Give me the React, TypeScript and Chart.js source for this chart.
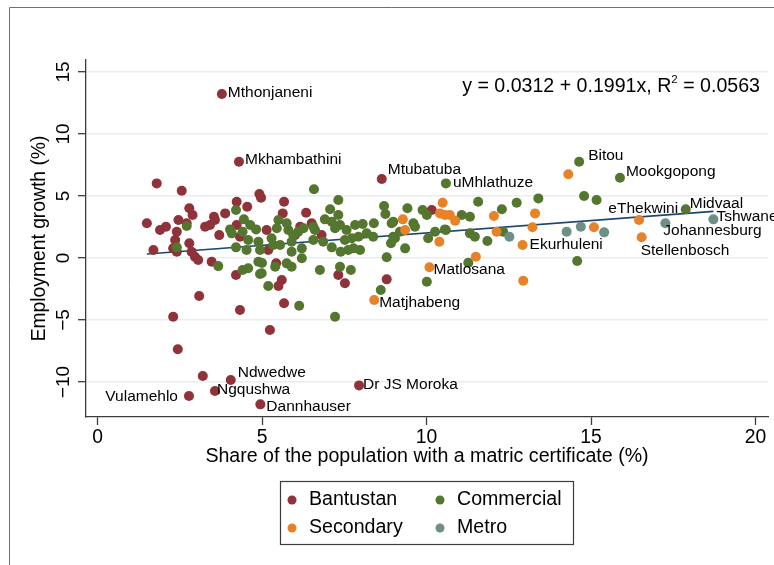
import React, { useEffect, useRef } from 'react';
import { Chart, registerables } from 'chart.js';

Chart.register(...registerables);

// ---------------- data ----------------
const groupNames = ['Bantustan', 'Commercial', 'Secondary', 'Metro'];

// [share with matric (%), employment growth (%)]
const bantustan: [number, number][] = [
  [3.78, 13.23], [4.30, 7.77], [8.64, 6.37], [4.05, -9.84], [3.57, -10.73], [2.78, -11.13], [4.95, -11.80], [7.95, -10.27],
  [1.80, 6.02], [2.56, 5.43], [1.50, 2.80], [1.90, 2.26], [2.08, 2.52], [1.70, 0.65], [2.79, 4.01], [2.89, 3.47],
  [2.46, 3.06], [2.71, 2.80], [2.41, 2.12], [2.36, 1.45], [2.30, 0.78], [2.41, 0.51], [2.79, 1.19], [2.86, 0.51],
  [2.96, 0.10], [3.06, -0.16], [3.47, -0.30], [3.27, 2.52], [3.42, 2.66], [3.54, 3.33], [3.57, 3.06], [3.70, 1.85],
  [3.88, 3.60], [4.23, 4.54], [4.55, 4.14], [4.92, 5.16], [4.97, 4.86], [5.14, 2.26], [4.21, -1.37], [3.09, -3.06],
  [2.30, -4.73], [4.33, -4.19], [4.23, 2.66], [4.33, 1.72], [5.67, 4.54], [6.34, 3.65], [5.63, 3.60], [6.16, 2.52],
  [6.51, 2.80], [6.81, 1.85], [6.00, 1.85], [5.19, 0.65], [5.43, -0.43], [5.60, -1.77], [5.50, -2.26], [5.67, -3.65],
  [7.32, -1.37], [7.52, -2.04], [8.79, -1.72], [10.16, 3.87], [5.24, -5.81], [2.44, -7.36], [3.20, -9.52],
];

const commercial: [number, number][] = [
  [10.59, 6.02], [14.64, 7.77], [15.88, 6.48], [17.88, 3.93],
  [2.71, 2.58], [2.41, 0.86], [3.67, -0.65], [4.21, 3.87], [4.45, 3.12], [4.03, 2.31], [4.08, 1.99], [4.41, 2.12],
  [4.64, 2.66], [4.82, 2.31], [4.58, 1.45], [4.53, 0.65], [4.21, 0.86], [4.89, 1.31], [4.94, 0.65], [4.89, -0.30],
  [4.41, -0.97], [4.58, -0.83], [4.94, -1.29], [5.19, -2.26], [6.58, 5.54], [7.32, 4.68], [7.07, 3.93], [7.32, 3.47],
  [6.91, 3.12], [7.12, 2.93], [7.37, 2.66], [7.22, 2.40], [7.57, 2.26], [7.83, 2.66], [8.06, 2.74], [8.40, 2.80],
  [8.18, 1.99], [7.93, 1.72], [7.73, 1.59], [7.52, 1.45], [7.78, 0.78], [7.98, 0.65], [7.62, 0.65], [7.39, 0.51],
  [7.12, 0.86], [6.86, 1.31], [6.56, 1.45], [6.61, 2.26], [6.56, 2.52], [6.26, 2.40], [6.10, 2.12], [5.95, 1.85],
  [5.90, 1.31], [5.90, 0.51], [6.21, 0.78], [6.21, -0.02], [5.80, 2.26], [5.75, 2.80], [5.50, 3.06], [5.45, 2.40],
  [5.29, 1.59], [5.34, 1.05], [5.55, 1.05], [5.40, -0.70], [5.75, -0.43], [5.90, -0.70], [4.99, -1.23], [5.00, -0.40],
  [6.13, -3.85], [6.76, -0.97], [7.37, -0.70], [7.70, -0.97], [7.22, -4.73], [8.61, -2.58], [8.79, 0.06], [8.71, 4.19],
  [8.75, 3.55], [8.94, 2.80], [8.99, 1.72], [8.92, 1.19], [8.38, 1.72], [9.42, 4.01], [9.88, 3.87], [10.01, 3.47],
  [8.99, 2.93], [9.60, 2.80], [9.65, 2.52], [9.19, 2.12], [9.04, 1.59], [9.35, 0.78], [10.05, 1.59], [10.26, 2.12],
  [10.59, 2.26], [11.07, 3.47], [11.32, 3.33], [11.57, 4.54], [11.32, 1.99], [11.47, 1.72], [11.85, 1.37], [12.29, 3.93],
  [12.74, 4.46], [13.40, 4.81], [11.27, -0.38], [10.01, -1.91], [14.79, 5.00], [15.17, 4.68], [14.58, -0.24], [12.33, 2.12],
  [10.56, 2.31],
];

const secondary: [number, number][] = [
  [12.92, 1.05], [10.09, -0.75], [8.41, -3.39], [16.54, 1.67],
  [10.49, 4.46], [10.41, 3.60], [10.56, 3.47], [10.71, 3.47], [10.87, 3.01], [9.28, 3.12], [9.35, 2.26], [10.39, 1.31],
  [12.05, 3.39], [12.13, 2.12], [11.50, 0.10], [12.94, -1.83], [13.30, 3.60], [13.22, 2.48], [14.31, 6.75], [15.09, 2.48],
  [16.46, 3.06],
];

const metro: [number, number][] = [
  [18.72, 3.12], [17.26, 2.80], [12.52, 1.72], [14.26, 2.12], [14.69, 2.52], [15.40, 2.07],
];

// fitted line end points
const fitLine: [number, number][] = [[1.5, 0.33], [18.72, 3.76]];

const xTickValues = [0, 5, 10, 15, 20];
const yTickValues = [-10, -5, 0, 5, 10, 15];
const xRange = [-0.35, 20.38];
const yRange = [-12.82, 15.97];

const xTitle = 'Share of the population with a matric certificate (%)';
const yTitle = 'Employment growth (%)';
const equationMain = 'y = 0.0312 + 0.1991x, R';
const equationSup = '2';
const equationTail = ' = 0.0563';

// labelled municipalities: group index, point index
const labelledNames = ['Mthonjaneni', 'Mkhambathini', 'Mtubatuba', 'Ndwedwe', 'Ngqushwa', 'Vulamehlo', 'Dannhauser', 'Dr JS Moroka',
  'uMhlathuze', 'Bitou', 'Mookgopong', 'Midvaal', 'Ekurhuleni', 'Matlosana', 'Matjhabeng', 'Stellenbosch',
  'Tshwane', 'Johannesburg', 'eThekwini'];
const labelledGroup = [0, 0, 0, 0, 0, 0, 0, 0, 1, 1, 1, 1, 2, 2, 2, 2, 3, 3, 3];
const labelledIndex = [0, 1, 2, 3, 4, 5, 6, 7, 0, 1, 2, 3, 0, 1, 2, 3, 0, 1, 1];

// ---------------- styles ----------------
const FONT = "'Liberation Sans', Arial, Helvetica, sans-serif";
const COLORS = ['rgb(144,50,57)', 'rgb(84,118,46)', 'rgb(232,130,38)', 'rgb(110,143,136)'];
const NAVY = 'rgb(26,71,111)';
const AXIS = '#3c3c3c';
const GRID = '#e5eef1';
const BIG = 19.6;

const labelStyle: Record<string, { dx: number; dy: number; align: CanvasTextAlign }> = {
  Mthonjaneni: { dx: 6, dy: -1, align: 'left' },
  Mkhambathini: { dx: 6, dy: -2, align: 'left' },
  Mtubatuba: { dx: 6, dy: -9, align: 'left' },
  uMhlathuze: { dx: 7, dy: -1, align: 'left' },
  Bitou: { dx: 9, dy: -6, align: 'left' },
  Mookgopong: { dx: 6, dy: -6, align: 'left' },
  Midvaal: { dx: 4, dy: -6, align: 'left' },
  Tshwane: { dx: 3, dy: -3, align: 'left' },
  Johannesburg: { dx: -2, dy: 7, align: 'left' },
  eThekwini: { dx: -57, dy: -15, align: 'left' },
  Stellenbosch: { dx: -1, dy: 13, align: 'left' },
  Ekurhuleni: { dx: 7, dy: 0, align: 'left' },
  Matlosana: { dx: 4, dy: 2, align: 'left' },
  Matjhabeng: { dx: 5, dy: 3, align: 'left' },
  'Dr JS Moroka': { dx: 4, dy: -1, align: 'left' },
  Ndwedwe: { dx: 7, dy: -7, align: 'left' },
  Ngqushwa: { dx: 2, dy: -1, align: 'left' },
  Vulamehlo: { dx: -11, dy: 1, align: 'right' },
  Dannhauser: { dx: 6, dy: 2, align: 'left' },
};

const decorPlugin = {
  id: 'decor',
  afterDraw(chart: any) {
    const { ctx } = chart;
    const ys = chart.scales.y;
    ctx.save();
    // outer frame
    ctx.strokeStyle = '#707070';
    ctx.lineWidth = 1;
    ctx.beginPath();
    ctx.moveTo(9.5, 565);
    ctx.lineTo(9.5, 7.5);
    ctx.lineTo(774, 7.5);
    ctx.stroke();

    // y tick labels (rotated)
    ctx.fillStyle = '#000';
    ctx.font = `19px ${FONT}`;
    ctx.textAlign = 'center';
    ctx.textBaseline = 'middle';
    yTickValues.forEach((v) => {
      const py = ys.getPixelForValue(v);
      ctx.save();
      ctx.translate(64, py);
      ctx.rotate(-Math.PI / 2);
      ctx.fillText(v < 0 ? '\u2212' + Math.abs(v) : String(v), 0, 0);
      ctx.restore();
    });

    // point labels
    ctx.font = `15.5px ${FONT}`;
    ctx.textBaseline = 'middle';
    labelledNames.forEach((name, i) => {
      const meta = chart.getDatasetMeta(labelledGroup[i]);
      const el = meta.data[labelledIndex[i]];
      if (!el) return;
      const st = labelStyle[name];
      ctx.textAlign = st.align;
      ctx.fillText(name, el.x + st.dx, el.y + st.dy);
    });

    // equation
    ctx.font = `${BIG}px ${FONT}`;
    ctx.textAlign = 'left';
    ctx.textBaseline = 'middle';
    const supFont = `11.5px ${FONT}`;
    const w1 = ctx.measureText(equationMain).width;
    const w3 = ctx.measureText(equationTail).width;
    ctx.font = supFont;
    const w2 = ctx.measureText(equationSup).width;
    const right = 760;
    const ey = 87;
    const x0 = right - (w1 + w2 + w3);
    ctx.font = `${BIG}px ${FONT}`;
    ctx.fillText(equationMain, x0, ey);
    ctx.fillText(equationTail, x0 + w1 + w2, ey);
    ctx.font = supFont;
    ctx.fillText(equationSup, x0 + w1, ey - 7);

    // legend
    ctx.strokeStyle = AXIS;
    ctx.lineWidth = 1.2;
    ctx.strokeRect(280.5, 481.5, 293, 63);
    const pos = [[292, 500], [440, 500], [292, 528], [440, 528]];
    ctx.font = `${BIG}px ${FONT}`;
    ctx.textAlign = 'left';
    ctx.textBaseline = 'middle';
    groupNames.forEach((name, i) => {
      const [lx, ly] = pos[i];
      ctx.fillStyle = COLORS[i];
      ctx.beginPath();
      ctx.arc(lx, ly, 4.5, 0, Math.PI * 2);
      ctx.fill();
      ctx.fillStyle = '#000';
      ctx.fillText(name, lx + 17, ly);
    });
    ctx.restore();
  },
};

export default function App() {
  const ref = useRef<HTMLCanvasElement>(null);
  useEffect(() => {
    if (!ref.current) return;
    Chart.defaults.font.family = FONT;
    const groups = [bantustan, commercial, secondary, metro];
    const orders = [4, 3, 2, 1];
    const datasets: any[] = groups.map((g, i) => ({
      label: groupNames[i],
      data: g.map(([x, y]) => ({ x, y })),
      backgroundColor: COLORS[i],
      borderWidth: 0,
      pointRadius: 5,
      pointHoverRadius: 5,
      order: orders[i],
    }));
    datasets.push({
      label: 'Fit',
      data: fitLine.map(([x, y]) => ({ x, y })),
      showLine: true,
      borderColor: NAVY,
      borderWidth: 1.6,
      pointRadius: 0,
      order: 5,
    });
    const chart = new Chart(ref.current, {
      type: 'scatter',
      data: { datasets },
      plugins: [decorPlugin],
      options: {
        responsive: false,
        animation: false,
        events: [],
        layout: { padding: { top: 60, right: 6, left: 0, bottom: 0 } },
        plugins: { legend: { display: false }, tooltip: { enabled: false } },
        scales: {
          x: {
            type: 'linear',
            min: xRange[0],
            max: xRange[1],
            afterBuildTicks: (s: any) => { s.ticks = xTickValues.map((v) => ({ value: v })); },
            afterFit: (s: any) => { s.height = 148; },
            grid: { drawOnChartArea: false, drawTicks: true, tickLength: 8, tickColor: AXIS, tickWidth: 1.3 },
            border: { color: AXIS, width: 1.3 },
            ticks: { color: '#000', font: { size: 19.3 }, padding: 1, maxRotation: 0, autoSkip: false },
            title: { display: true, text: xTitle, color: '#000', font: { size: BIG }, padding: { top: 0, bottom: 96.6 } },
          },
          y: {
            type: 'linear',
            min: yRange[0],
            max: yRange[1],
            afterBuildTicks: (s: any) => { s.ticks = yTickValues.map((v) => ({ value: v })); },
            afterFit: (s: any) => { s.width = 86; },
            grid: { color: GRID, lineWidth: 1.4, drawTicks: true, tickLength: 8, tickColor: AXIS, tickWidth: 1.3 },
            border: { color: AXIS, width: 1.3 },
            ticks: { display: false },
            title: { display: true, text: yTitle, color: '#000', font: { size: 19.3 }, padding: { top: 28, bottom: 0 } },
          },
        },
      } as any,
    });
    return () => chart.destroy();
  }, []);
  return (
    <div style={{ position: 'absolute', left: 0, top: 0, width: 774, height: 565, background: '#fff' }}>
      <canvas ref={ref} width={774} height={565} style={{ display: 'block' }} />
    </div>
  );
}
